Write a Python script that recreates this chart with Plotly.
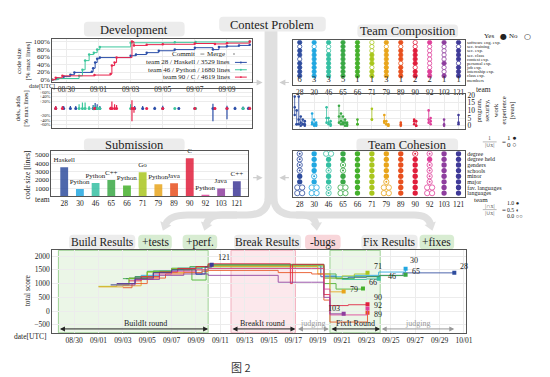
import plotly.graph_objects as go

W, H = 550, 377
SERIF = "Liberation Serif"

# ---------------- data ----------------
teams = ["28", "30", "46", "65", "66", "71", "79", "89", "90", "92", "103", "121"]
team_colors = ["#2f4d9e", "#22a7e0", "#35bfa2", "#3aa845", "#45b02c", "#a9c61e",
               "#e8a51c", "#e8501e", "#e01e3c", "#e0409a", "#8e3e9e", "#3f3a98"]
members = [6, 3, 3, 5, 1, 1, 3, 1, 2, 2, 1, 1]
languages = ["Haskell", "Python", "Python", "C++", "Python", "Go", "Python", "Java", "C", "Python", "Java", "C++"]
code_lines = [3500, 880, 1600, 1980, 1320, 2900, 1450, 1580, 4600, 180, 950, 1820]

# development: cumulative code size [% max lines]
dev28_t = ["08-29 03", "08-29 10", "08-29 20", "08-30 06", "08-30 12", "08-31 14", "08-31 16", "08-31 19", "08-31 22",
           "09-01 02", "09-03 00", "09-03 08", "09-04 00", "09-04 18", "09-05 18", "09-07 00", "09-08 03", "09-08 12",
           "09-09 00", "09-09 18", "09-10 10"]
dev28_v = [0, 3, 8, 13, 19, 21, 30, 45, 55, 58, 63, 66, 71, 76, 79, 84, 79, 86, 88, 90, 92]
dev46_t = ["08-29 03", "08-29 12", "08-30 19", "08-31 00", "08-31 04", "08-31 10", "08-31 17", "08-31 22", "09-01 02",
           "09-03 00", "09-05 18", "09-07 01", "09-10 10"]
dev46_v = [0, 3, 10, 26, 50, 66, 71, 79, 86, 97, 98, 99, 100]
dev90_t = ["08-29 03", "08-29 08", "08-29 18", "08-31 18", "09-01 18", "09-01 20", "09-02 00", "09-02 03", "09-03 02",
           "09-03 05", "09-04 00", "09-05 00", "09-07 00", "09-08 06", "09-09 00", "09-10 10"]
dev90_v = [0, 5, 10, 12, 15, 37, 45, 58, 100, 90, 92, 93, 95, 94, 96, 100]

# development: additions / deletions per commit [% max lines]
da28_t = ["08-29 08", "08-29 20", "08-30 06", "08-30 14", "08-31 16", "08-31 19", "08-31 22", "09-01 02", "09-03 06",
          "09-03 18", "09-04 12", "09-05 00", "09-06 00", "09-07 00", "09-08 03", "09-09 00", "09-09 12", "09-10 00",
          "09-10 08"]
da28_add = [5, 5, 5, 5, 8, 15, 10, 5, 5, 5, 3, 6, 2, 2, 12, 6, 3, 4, 3]
da28_del = [0, 1, 0, 1, 0, 2, 2, 0, 1, 2, 1, 1, 1, 0, 45, 35, 2, 1, 1]
da46_t = ["08-30 19", "08-31 00", "08-31 04", "08-31 10", "08-31 17", "08-31 22", "09-01 02", "09-03 00", "09-05 18",
          "09-07 01", "09-10 00"]
da46_add = [10, 16, 16, 5, 8, 5, 3, 10, 1, 2, 1]
da46_del = [0, 2, 1, 1, 3, 1, 0, 1, 0, 1, 0]
da90_t = ["08-29 08", "08-29 18", "08-31 18", "09-01 18", "09-01 20", "09-02 00", "09-02 03", "09-03 02", "09-03 05",
          "09-04 00", "09-05 00", "09-07 00", "09-08 06", "09-09 00", "09-10 10"]
da90_add = [5, 5, 2, 3, 20, 10, 8, 25, 2, 1, 1, 1, 2, 2, 3]
da90_del = [0, 0, 1, 1, 2, 1, 1, 45, 10, 0, 1, 0, 2, 1, 1]

# team composition (1 = yes, 0 = no)
comp_labels = ["software eng. exp.", "sec. training", "sec. exp.", "sec. class", "contest exp.",
               "personal exp.", "job exp.", "internship exp.", "class exp.", "members"]
sw_eng_exp = [1, 1, 1, 1, 1, 0, 1, 1, 0, 1, 1, 1]
sec_training = [0, 0, 0, 1, 1, 0, 0, 0, 0, 0, 0, 0]
sec_exp = [1, 1, 0, 1, 1, 0, 1, 1, 1, 0, 0, 1]
sec_class = [1, 1, 1, 1, 1, 1, 1, 1, 1, 0, 0, 1]
contest_exp = [0, 1, 1, 1, 1, 1, 1, 1, 1, 0, 0, 1]
personal_exp = [1, 1, 1, 1, 1, 1, 1, 0, 1, 0, 1, 0]
job_exp = [1, 1, 1, 1, 1, 0, 1, 1, 0, 0, 0, 1]
internship_exp = [1, 1, 1, 1, 1, 1, 1, 1, 1, 1, 0, 1]
class_exp = [1, 1, 1, 1, 1, 1, 1, 1, 1, 1, 1, 1]

# experience of each member [years]
exp_team = ["28"] * 6 + ["30"] * 3 + ["46"] * 3 + ["65"] * 5 + ["66", "71"] + ["79"] * 3 + ["89"] + ["90"] * 2 + ["92"] * 2 + ["103", "121"]
exp_prog = [19, 10, 19, 6, 4, 3, 8, 4, 2, 12, 5, 3, 13, 8, 6, 4, 2, 4, 11, 7, 3, 1, 2, 4, 3, 10, 5, 4, 7]
exp_sec = [7, 1, 1, 0, 1, 0, 1, 0, 1, 2, 1, 0, 2, 1, 2, 0, 1, 1, 4, 3, 1, 0, 0, 3, 0, 4, 1, 1, 2]
exp_work = [12, 1, 4, 2, 1, 1, 2, 1, 0, 5, 2, 1, 6, 3, 1, 2, 0, 1, 4, 2, 1, 0, 1, 1, 0, 2, 3, 0, 1]

# team cohesion (1.0 / 0.5 / 0.0)
coh_labels = ["degree", "degree held", "genders", "schools", "minor", "major", "fav. languages", "languages"]
degree = [0.5, 1, 0, 1, 1, 1, 1, 1, 0.5, 0.5, 1, 1]
degree_held = [0.5, 1, 1, 1, 1, 1, 1, 1, 1, 1, 1, 1]
genders = [0.5, 1, 1, 0.5, 1, 1, 1, 1, 1, 0.5, 1, 1]
schools = [0.5, 1, 0.5, 0.5, 1, 1, 1, 1, 1, 0.5, 1, 1]
minor = [1, 0.5, 1, 1, 1, 1, 1, 1, 1, 0.5, 1, 1]
major = [1, 1, 1, 1, 1, 1, 0.5, 1, 1, 0.5, 1, 1]
fav_languages = [0, 0, 0.5, 0, 1, 1, 0, 1, 1, 0, 1, 1]
langs = [0, 0, 0.5, 0, 1, 1, 0, 1, 1, 0, 1, 1]

# total score over time
s28_t = ["09-03 06", "09-04 00", "09-05 12", "09-07 00", "09-08 12", "09-09 12", "09-10 00", "09-18 12", "09-19 06",
         "09-20 12", "09-21 12", "09-23 00", "09-24 03", "09-26 00", "09-30 05"]
s28_v = [1180, 1250, 1400, 1500, 1560, 1620, 1660, 1660, 1250, 1180, 1230, 1260, 1300, 1390, 1393]
s30_t = ["09-03 12", "09-04 12", "09-06 00", "09-07 12", "09-09 00", "09-09 12", "09-10 00", "09-18 12", "09-19 12",
         "09-20 12", "09-22 00", "09-24 00", "09-26 05"]
s30_v = [1200, 1300, 1450, 1560, 1330, 1600, 1640, 1640, 1280, 1250, 1300, 1420, 1536]
s46_t = ["09-02 00", "09-03 12", "09-05 00", "09-07 00", "09-09 00", "09-10 00", "09-18 12", "09-19 12", "09-21 00",
         "09-23 00", "09-24 00"]
s46_v = [960, 1180, 1450, 1530, 1600, 1680, 1680, 1200, 1150, 1170, 1180]
s65_t = ["09-03 00", "09-04 00", "09-05 12", "09-07 00", "09-08 12", "09-10 00", "09-18 12", "09-19 12", "09-20 12",
         "09-22 00", "09-24 00", "09-26 05"]
s65_v = [1180, 1250, 1460, 1560, 1620, 1700, 1700, 1350, 1180, 1250, 1290, 1321]
s66_t = ["09-03 12", "09-05 00", "09-07 00", "09-08 16", "09-09 20", "09-10 00", "09-18 12", "09-19 12", "09-20 12",
         "09-22 17"]
s66_v = [1190, 1430, 1520, 1130, 1500, 1560, 1560, 1000, 800, 821]
s71_t = ["09-01 00", "09-02 12", "09-03 12", "09-05 00", "09-07 00", "09-09 00", "09-10 00", "09-18 12", "09-19 12",
         "09-21 00", "09-22 00", "09-23 02"]
s71_v = [900, 950, 1200, 1420, 1540, 1600, 1650, 1650, 1200, 1280, 1350, 1393]
s79_t = ["09-01 00", "09-03 00", "09-04 12", "09-06 00", "09-08 00", "09-10 00", "09-18 00", "09-19 00", "09-20 00",
         "09-21 03"]
s79_v = [880, 920, 1250, 1400, 1500, 1620, 1620, 1350, 700, 714]
s89_t = ["09-03 00", "09-03 18", "09-05 00", "09-06 12", "09-08 00", "09-09 12", "09-10 00", "09-15 18", "09-18 12",
         "09-19 12", "09-20 00", "09-23 02"]
s89_v = [850, 1000, 1200, 1350, 1400, 1450, 1480, 1400, 1350, 400, -400, -60]
s90_t = ["09-03 12", "09-04 12", "09-06 00", "09-07 12", "09-09 00", "09-10 00", "09-16 18", "09-16 22", "09-19 12",
         "09-20 00", "09-21 12", "09-23 02"]
s90_v = [1100, 1250, 1420, 1550, 1620, 1720, 1000, 1700, 600, 200, 230, 250]
s92_t = ["09-02 12", "09-04 00", "09-05 12", "09-07 00", "09-09 00", "09-10 00", "09-18 12", "09-19 12", "09-20 00",
         "09-23 02"]
s92_v = [1000, 1150, 1350, 1450, 1500, 1550, 1550, 800, -140, 90]
s103_t = ["09-02 00", "09-04 00", "09-06 00", "09-08 00", "09-10 00", "09-15 18", "09-18 12", "09-19 12", "09-20 00",
          "09-21 03"]
s103_v = [950, 1150, 1300, 1350, 1300, 1050, 1050, 500, -100, -100]
s121_t = ["09-02 12", "09-04 00", "09-05 12", "09-07 00", "09-09 00", "09-09 18", "09-10 07"]
s121_v = [1000, 1200, 1400, 1500, 1350, 1600, 1690]

score_t = [s28_t, s30_t, s46_t, s65_t, s66_t, s71_t, s79_t, s89_t, s90_t, s92_t, s103_t, s121_t]
score_v = [s28_v, s30_v, s46_v, s65_v, s66_v, s71_v, s79_v, s89_v, s90_v, s92_v, s103_v, s121_v]


# ---------------- helpers ----------------
def d(s):
    md, hh = s.split()
    return f"2016-{md} {hh}:00"


def X(px):
    return px / W


def Y(py):
    return 1 - py / H


def P(px, py):
    return f"{X(px):.5f},{Y(py):.5f}"


def rbox(x0, y0, x1, y1, fill, r=4):
    path = (f"M {P(x0 + r, y0)} L {P(x1 - r, y0)} Q {P(x1, y0)} {P(x1, y0 + r)} "
            f"L {P(x1, y1 - r)} Q {P(x1, y1)} {P(x1 - r, y1)} L {P(x0 + r, y1)} "
            f"Q {P(x0, y1)} {P(x0, y1 - r)} L {P(x0, y0 + r)} Q {P(x0, y0)} {P(x0 + r, y0)} Z")
    return dict(type="path", xref="paper", yref="paper", path=path, fillcolor=fill, line=dict(width=0), layer="below")


shapes = []
annotations = []


def ann(px, py, text, size=8, xanchor="center", yanchor="middle", color="#222", family=SERIF, angle=0):
    annotations.append(dict(xref="paper", yref="paper", x=X(px), y=Y(py), text=text, showarrow=False,
                            xanchor=xanchor, yanchor=yanchor, textangle=angle,
                            font=dict(family=family, size=size, color=color)))


def da_scale(v):
    # power scale used for the dels / adds panel
    return v ** 0.75


fig = go.Figure()
idx = list(range(len(teams)))

# ---- development: code size ----
dev_colors = ["#2b4ea8", "#3cc79c", "#e8254d"]
for t, v, c in zip([dev28_t, dev46_t, dev90_t], [dev28_v, dev46_v, dev90_v], dev_colors):
    fig.add_trace(go.Scatter(x=[d(s) for s in t], y=v, mode="lines+markers", xaxis="x", yaxis="y",
                             line=dict(color=c, width=1, shape="hv"), marker=dict(size=2.5, color=c),
                             showlegend=False, hoverinfo="skip"))

# ---- development: dels / adds ----
for t, a, dl, c in zip([da28_t, da46_t, da90_t], [da28_add, da46_add, da90_add],
                       [da28_del, da46_del, da90_del], dev_colors):
    xs, ys = [], []
    for ti, ai, di in zip(t, a, dl):
        xs += [d(ti), d(ti), None]
        ys += [da_scale(ai), -da_scale(di), None]
    fig.add_trace(go.Scatter(x=xs, y=ys, mode="lines", xaxis="x2", yaxis="y2",
                             line=dict(color=c, width=1.2), showlegend=False, hoverinfo="skip"))
    fig.add_trace(go.Scatter(x=[d(s) for s in t], y=[0] * len(t), mode="markers", xaxis="x2", yaxis="y2",
                             marker=dict(size=3, color=c), showlegend=False, hoverinfo="skip"))

# ---- submission bars ----
fig.add_trace(go.Bar(x=idx, y=code_lines, xaxis="x3", yaxis="y3", width=0.5,
                     marker=dict(color=team_colors, opacity=0.85, line=dict(width=0)),
                     text=languages, textposition="outside", cliponaxis=False, constraintext="none",
                     textfont=dict(family=SERIF, size=7, color="#222"), showlegend=False, hoverinfo="skip"))

# ---- team composition ----
comp_rows = [sw_eng_exp, sec_training, sec_exp, sec_class, contest_exp, personal_exp, job_exp, internship_exp, class_exp]
for i in idx:
    shapes.append(dict(type="line", xref="x4", yref="y4", x0=i, x1=i, y0=0, y1=len(comp_rows) - 1,
                       line=dict(color=team_colors[i], width=0.8), layer="below"))
cx, cy, cfill, cline = [], [], [], []
for r, row in enumerate(comp_rows):
    for i, v in enumerate(row):
        cx.append(i)
        cy.append(r)
        cfill.append(team_colors[i] if v else "white")
        cline.append(team_colors[i])
fig.add_trace(go.Scatter(x=cx, y=cy, mode="markers", xaxis="x4", yaxis="y4",
                         marker=dict(size=4.3, color=cfill, line=dict(color=cline, width=0.8)),
                         showlegend=False, hoverinfo="skip"))
fig.add_trace(go.Scatter(x=idx, y=[len(comp_rows)] * len(idx), mode="text", text=[str(m) for m in members],
                         textfont=dict(family=SERIF, size=8.5, color="#222"), xaxis="x4", yaxis="y4",
                         showlegend=False, hoverinfo="skip"))

# ---- experience ----
for i, tm in enumerate(teams):
    mem = [k for k, t in enumerate(exp_team) if t == tm]
    n = len(mem)
    xs, ys, px_, py_ = [], [], [], []
    for j, k in enumerate(mem):
        off = (j - (n - 1) / 2) * 0.14
        vals = [exp_prog[k], exp_sec[k], exp_work[k]]
        xs += [i + off, i + off, None]
        ys += [min(vals), max(vals), None]
        px_ += [i + off] * 3
        py_ += vals
    fig.add_trace(go.Scatter(x=xs, y=ys, mode="lines", xaxis="x5", yaxis="y5",
                             line=dict(color=team_colors[i], width=0.8), showlegend=False, hoverinfo="skip"))
    fig.add_trace(go.Scatter(x=px_, y=py_, mode="markers", xaxis="x5", yaxis="y5",
                             marker=dict(size=2.6, color=team_colors[i]), showlegend=False, hoverinfo="skip"))

# ---- team cohesion ----
coh_rows = [degree, degree_held, genders, schools, minor, major, fav_languages, langs]
fx_, fy_, fc_ = [], [], []
ox_, oy_, oc_ = [], [], []
dx_, dy_, dc_ = [], [], []
for r, row in enumerate(coh_rows):
    for i, v in enumerate(row):
        if v >= 1:
            fx_.append(i); fy_.append(r); fc_.append(team_colors[i])
        elif v >= 0.5:
            ox_.append(i); oy_.append(r); oc_.append(team_colors[i])
            dx_.append(i); dy_.append(r); dc_.append(team_colors[i])
        else:
            for o in (-0.17, 0.17):
                ox_.append(i + o); oy_.append(r); oc_.append(team_colors[i])
fig.add_trace(go.Scatter(x=fx_, y=fy_, mode="markers", xaxis="x6", yaxis="y6",
                         marker=dict(size=5.3, color=fc_, line=dict(width=0)), showlegend=False, hoverinfo="skip"))
fig.add_trace(go.Scatter(x=ox_, y=oy_, mode="markers", xaxis="x6", yaxis="y6",
                         marker=dict(size=5.3, color="white", line=dict(color=oc_, width=0.8)),
                         showlegend=False, hoverinfo="skip"))
fig.add_trace(go.Scatter(x=dx_, y=dy_, mode="markers", xaxis="x6", yaxis="y6",
                         marker=dict(size=2, color=dc_), showlegend=False, hoverinfo="skip"))

# ---- total score ----
label_shift = {"28": (8, 6), "30": (6, 8), "46": (11, 2), "65": (8, 3), "66": (8, 6), "71": (8, 6),
               "79": (8, 2), "89": (8, -2), "90": (8, 7), "92": (8, 3), "103": (-2, 5), "121": (8, 7)}
for i, tm in enumerate(teams):
    t = [d(s) for s in score_t[i]]
    v = score_v[i]
    fig.add_trace(go.Scatter(x=t, y=v, mode="lines", xaxis="x7", yaxis="y7",
                             line=dict(color=team_colors[i], width=1, shape="hv"), opacity=0.85,
                             showlegend=False, hoverinfo="skip"))
    fig.add_trace(go.Scatter(x=[t[-1]], y=[v[-1]], mode="markers", xaxis="x7", yaxis="y7",
                             marker=dict(size=4, color=team_colors[i], symbol="square"),
                             showlegend=False, hoverinfo="skip"))
    sx, sy = label_shift[tm]
    annotations.append(dict(xref="x7", yref="y7", x=t[-1], y=v[-1], text=tm, showarrow=False,
                            xanchor="left" if sx > 0 else "right", xshift=sx - (4 if sx > 0 else 0), yshift=sy,
                            font=dict(family=SERIF, size=8, color="#222")))

# rounds
rounds = [("2016-08-28 17:00", "2016-09-10 00:00", "rgba(205,232,196,0.40)", "rgba(150,205,140,0.9)"),
          ("2016-09-11 21:00", "2016-09-17 04:00", "rgba(250,214,220,0.55)", "rgba(240,170,185,0.9)"),
          ("2016-09-20 00:00", "2016-09-24 03:00", "rgba(205,232,196,0.40)", "rgba(150,205,140,0.9)")]
for x0, x1, fc, lc in rounds:
    shapes.append(dict(type="rect", xref="x7", yref="y7 domain", x0=x0, x1=x1, y0=0, y1=1,
                       fillcolor=fc, line=dict(color=lc, width=1), layer="below"))

phase_arrows = [("2016-08-28 17:00", "2016-09-10 00:00", "BuildIt round", "2016-09-04 20:00", "#222"),
                ("2016-09-11 21:00", "2016-09-17 04:00", "BreakIt round", "2016-09-14 12:00", "#222"),
                ("2016-09-17 06:00", "2016-09-19 22:00", "judging", "2016-09-18 14:00", "#999"),
                ("2016-09-20 00:00", "2016-09-24 03:00", "FixIt Round", "2016-09-22 02:00", "#222"),
                ("2016-09-24 03:00", "2016-09-30 05:00", "judging", "2016-09-27 04:00", "#999")]
for x0, x1, txt, xc, col in phase_arrows:
    annotations.append(dict(xref="x7", yref="y7", axref="x7", ayref="y7", x=x1, y=-650, ax=x0, ay=-650,
                            text="", showarrow=True, arrowside="end+start", arrowhead=2, arrowsize=1,
                            arrowwidth=1, arrowcolor=col))
    annotations.append(dict(xref="x7", yref="y7", x=xc, y=-470, text=txt, showarrow=False,
                            font=dict(family=SERIF, size=8, color="#222" if col == "#222" else "#999")))

# ---------------- decorations ----------------
band = "#e0e0e0"
shapes.append(dict(type="rect", xref="paper", yref="paper", x0=X(268), x1=X(281), y0=Y(200), y1=Y(27),
                   fillcolor=band, line=dict(width=0), layer="below"))


def curve(pts):
    return dict(type="path", xref="paper", yref="paper", path=pts, line=dict(color=band, width=7), layer="below")


shapes.append(curve(f"M {P(272, 195)} Q {P(272, 215)} {P(250, 215)} L {P(190, 215)} Q {P(172, 215)} {P(168, 224)}"))
shapes.append(curve(f"M {P(240, 215)} L {P(225, 215)} Q {P(212, 215)} {P(209, 224)}"))
shapes.append(curve(f"M {P(277, 195)} Q {P(277, 215)} {P(299, 215)} L {P(420, 215)} Q {P(433, 215)} {P(436, 224)}"))
shapes.append(curve(f"M {P(300, 215)} L {P(306, 215)} Q {P(318, 215)} {P(320, 224)}"))


def tri(tx, ty, ux, uy, s=6):
    n = (ux ** 2 + uy ** 2) ** 0.5
    ux, uy = ux / n, uy / n
    bx, by = tx - ux * s, ty - uy * s
    px_, py_ = -uy * s * 0.75, ux * s * 0.75
    path = f"M {P(tx, ty)} L {P(bx + px_, by + py_)} L {P(bx - px_, by - py_)} Z"
    return dict(type="path", xref="paper", yref="paper", path=path, fillcolor=band, line=dict(width=0),
                layer="below")


shapes += [tri(165, 231, -0.4, 1, 8), tri(207, 231, -0.3, 1, 8), tri(438, 231, 0.3, 1, 8), tri(321, 231, 0.1, 1, 8)]

# small arrows pointing into the stem
for x0, x1, yy in [(255, 266, 80), (294, 283, 80), (255, 266, 177), (294, 283, 177)]:
    annotations.append(dict(xref="paper", yref="paper", axref="pixel", ayref="pixel", x=X(x1), y=Y(yy),
                            ax=(x0 - x1), ay=0, text="", showarrow=True, arrowhead=2, arrowsize=1,
                            arrowwidth=1.2, arrowcolor="#cfcfcf"))

# title boxes
boxes = [(85, 18, 187, 33, "#ececec", "Development", 12.5),
         (222, 13, 330, 28, "#ececec", "Contest Problem", 12.5),
         (362, 21, 464, 34, "#ececec", "Team Composition", 12.5),
         (85, 137, 187, 150, "#ececec", "Submission", 12.5),
         (361, 137, 464, 150, "#ececec", "Team Cohesion", 12.5),
         (70, 235, 137, 250, "#ececec", "Build Results", 11.5),
         (140, 235, 174, 250, "#d8ecd2", "+tests", 11.5),
         (185, 235, 220, 250, "#d8ecd2", "+perf.", 11.5),
         (237, 235, 305, 250, "#ececec", "Break Results", 11.5),
         (309, 235, 345, 250, "#f8d6da", "-bugs", 11.5),
         (366, 235, 423, 250, "#ececec", "Fix Results", 11.5),
         (425, 235, 460, 250, "#d8ecd2", "+fixes", 11.5)]
for x0, y0, x1, y1, fc, txt, sz in boxes:
    shapes.append(rbox(x0, y0, x1, y1, fc))
    ann((x0 + x1) / 2, (y0 + y1) / 2 + 0.5, txt, size=sz)

# axis titles and side labels
ann(24, 58, "code size<br>[% max lines]", 7, angle=-90)
ann(22, 107, "dels, adds<br>[% max lines]", 6.5, angle=-90)
ann(28, 174, "code size [lines]", 7.5, angle=-90)
ann(28, 292, "total score", 7.5, angle=-90)
ann(58, 84.3, "date[UTC]", 6, xanchor="right")
ann(50, 339, "date[UTC]", 7.5, xanchor="right")
ann(43, 199, "team", 7.5)
ann(480, 87, "team", 7.5, xanchor="left")
ann(478, 200, "team", 7, xanchor="left")
ann(502, 109, "program,<br>security,<br>work<br>experience<br>[years]", 6.5, angle=-90)

# legends (text)
ann(200, 51, "Commit", 7, xanchor="right")
ann(230, 51, "Merge", 7, xanchor="right")
shapes.append(dict(type="line", xref="paper", yref="paper", x0=X(203), x1=X(207), y0=Y(51), y1=Y(51),
                   line=dict(color="#888", width=1)))
shapes.append(dict(type="circle", xref="paper", yref="paper", x0=X(236), x1=X(238), y0=Y(52), y1=Y(50),
                   fillcolor="#aaa", line=dict(width=0)))
for k, (txt, c) in enumerate([("team 28 / Haskell / 3529 lines", dev_colors[0]),
                              ("team 46 / Python / 1680 lines", dev_colors[1]),
                              ("team 90 / C / 4619 lines", dev_colors[2])]):
    yy = 59.5 + k * 7.5
    ann(235, yy, txt, 7, xanchor="right")
    shapes.append(dict(type="line", xref="paper", yref="paper", x0=X(238), x1=X(250), y0=Y(yy), y1=Y(yy),
                       line=dict(color=c, width=1)))
    shapes.append(dict(type="circle", xref="paper", yref="paper", x0=X(243), x1=X(245), y0=Y(yy + 1),
                       y1=Y(yy - 1), fillcolor=c, line=dict(width=0)))

ann(502, 33, "Yes", 7, xanchor="right")
ann(504, 33, "●", 8, xanchor="left", family="DejaVu Sans")
ann(527, 33, "No", 7, xanchor="right")
ann(529, 33, "○", 8, xanchor="left", family="DejaVu Sans")

ann(496, 137, "1", 6, color="#666")
shapes.append(dict(type="line", xref="paper", yref="paper", x0=X(489), x1=X(503), y0=Y(140.5), y1=Y(140.5),
                   line=dict(color="#888", width=0.6)))
ann(496, 144, "|∪x|", 6, color="#666")
ann(506, 140.5, "=", 7, xanchor="left")
ann(512, 137, "1 ●", 7, xanchor="left")
ann(512, 144, "0 ○", 7, xanchor="left")

ann(496, 206, "|∩x|", 6, color="#666")
shapes.append(dict(type="line", xref="paper", yref="paper", x0=X(489), x1=X(503), y0=Y(209.5), y1=Y(209.5),
                   line=dict(color="#888", width=0.6)))
ann(496, 213, "|∪x|", 6, color="#666")
ann(506, 209.5, "=", 7, xanchor="left")
ann(512, 203, "1.0 ●", 5.8, xanchor="left")
ann(512, 209.5, "0.5 ◐", 5.8, xanchor="left")
ann(512, 216, "0.0 ○○", 5.8, xanchor="left")

ann(244, 370, "图 2", 11, family="Noto Sans CJK SC", color="#333")

# ---------------- axes ----------------
tf = dict(family=SERIF, size=7.5, color="#222")
box = dict(showline=True, mirror=True, linecolor="#555", linewidth=1, zeroline=False, ticks="",
           gridcolor="#ececec", tickfont=tf)
box_nf = {k: v for k, v in box.items() if k != "tickfont"}
dev_range = ["2016-08-29 03:00", "2016-09-10 13:00"]
date_ticks = dict(type="date", tick0="2016-08-30", dtick=2 * 86400000, tickformat="%m/%d")


def dom(a, b):
    return [a / W, b / W]


def domy(top, bottom):
    return [1 - bottom / H, 1 - top / H]


team_ticks = dict(tickmode="array", tickvals=idx, ticktext=teams, range=[-0.45, 11.45])
da_ticks = [60, 40, 20, -20, -40, -60]
da_lim = da_scale(60) * 19.5 / 16.25

fig.update_layout(
    width=W, height=H, autosize=False, margin=dict(l=0, r=0, t=0, b=0),
    paper_bgcolor="white", plot_bgcolor="white", showlegend=False,
    shapes=shapes, annotations=annotations,
    xaxis=dict(domain=dom(53, 255), anchor="y", range=dev_range, **date_ticks, **box),
    yaxis=dict(domain=domy(36, 79), anchor="x", range=[-5, 106], tickmode="array",
               tickvals=[0, 20, 40, 60, 80, 100], ticktext=["0%", "20%", "40%", "60%", "80%", "100%"], **box_nf,
               tickfont=dict(family=SERIF, size=7, color="#222")),
    xaxis2=dict(domain=dom(53, 255), anchor="y2", range=dev_range, showticklabels=False, **date_ticks, **box),
    yaxis2=dict(domain=domy(87, 126), anchor="x2", range=[-da_lim, da_lim], tickmode="array",
                tickvals=[(1 if v > 0 else -1) * da_scale(abs(v)) for v in da_ticks],
                ticktext=[f"{v:+d}%" for v in da_ticks], **box_nf,
                tickfont=dict(family=SERIF, size=4.6, color="#222")),
    xaxis3=dict(domain=dom(52, 251), anchor="y3", range=[-0.82, 11.7], tickmode="array", tickvals=idx,
                ticktext=teams, showgrid=False, **box),
    yaxis3=dict(domain=domy(150, 196), anchor="x3", range=[0, 5450], tickmode="array",
                tickvals=[1000, 2000, 3000, 4000, 5000], **box_nf,
                tickfont=dict(family=SERIF, size=7, color="#222")),
    xaxis4=dict(domain=dom(297, 471), anchor="y4", showgrid=False, **team_ticks, **box),
    yaxis4=dict(domain=domy(37, 83), anchor="x4", side="right", range=[10.3, -0.5], tickmode="array",
                tickvals=list(range(len(comp_labels))), ticktext=comp_labels, showgrid=False, **box_nf,
                tickfont=dict(family=SERIF, size=4.6, color="#222")),
    xaxis5=dict(domain=dom(297, 471), anchor="y5", showticklabels=False, showgrid=True,
                tickmode="array", tickvals=idx, range=[-0.45, 11.45], **box),
    yaxis5=dict(domain=domy(92, 127), anchor="x5", side="right", range=[-1.9, 20.5], tickmode="array",
                tickvals=[0, 5, 10, 15, 20], **box),
    xaxis6=dict(domain=dom(297, 471), anchor="y6", showgrid=False, **team_ticks, **box),
    yaxis6=dict(domain=domy(150, 197), anchor="x6", side="right", range=[7.75, -0.45], tickmode="array",
                tickvals=list(range(len(coh_labels))), ticktext=coh_labels, showgrid=False, **box_nf,
                tickfont=dict(family=SERIF, size=6, color="#222")),
    xaxis7=dict(domain=dom(53, 472), anchor="y7", range=["2016-08-28 05:00", "2016-10-01 04:00"],
                **date_ticks, **box),
    yaxis7=dict(domain=domy(251, 335), anchor="x7", range=[-790, 2210], tickmode="array",
                tickvals=[-500, 0, 500, 1000, 1500, 2000], **box),
)

fig.write_html("out.html", config={"displayModeBar": False},
               post_script="document.body.style.margin='0';")
